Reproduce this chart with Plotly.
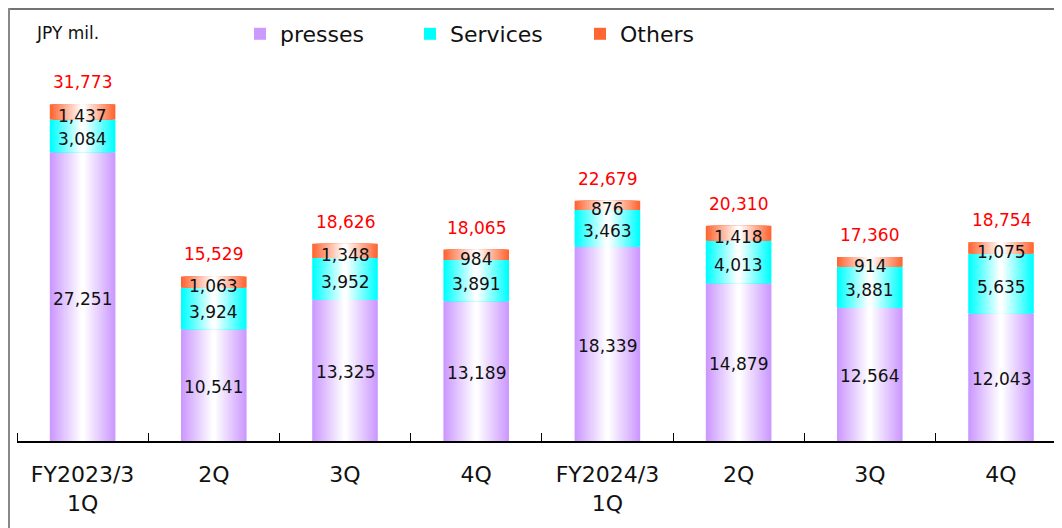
import plotly.graph_objects as go

categories = ["FY2023/3<br>1Q", "2Q", "3Q", "4Q", "FY2024/3<br>1Q", "2Q", "3Q", "4Q"]
presses = [27251, 10541, 13325, 13189, 18339, 14879, 12564, 12043]
services = [3084, 3924, 3952, 3891, 3463, 4013, 3881, 5635]
others = [1437, 1063, 1348, 984, 876, 1418, 914, 1075]
totals = [31773, 15529, 18626, 18065, 22679, 20310, 17360, 18754]

series = [
    ("presses", presses, (204, 153, 255), -2),
    ("Services", services, (0, 255, 255), -3),
    ("Others", others, (255, 102, 51), -4),
]

FONT = "DejaVu Sans, Verdana, sans-serif"
x = list(range(len(categories)))
N = 16
BW = 0.5

W, H = 1062, 528
ML, MR, MT, MB = 9, 0, 42, 95
pw, ph = W - ML - MR, H - MT - MB


def px_x(p):
    return (p - ML) / pw


def px_y(p):
    return (H - MB - p) / ph


fig = go.Figure()
base = [0] * len(x)
annotations = []
for name, vals, rgb, shift in series:
    for k in range(N):
        t = k / (N - 1)
        c = tuple(round(v + (255 - v) * t) for v in rgb)
        fig.add_trace(go.Bar(
            x=x, y=vals, base=base[:],
            width=BW * (1 - k / N),
            marker=dict(color="rgb(%d,%d,%d)" % c, line=dict(width=0)),
            name=name, showlegend=(k == 0), legendgroup=name,
            hoverinfo="skip",
        ))
    for i, v in enumerate(vals):
        annotations.append(dict(
            x=i, y=base[i] + v / 2, text=f"{v:,}", showarrow=False,
            yshift=shift,
            font=dict(family=FONT, size=17, color="#111111"),
            xref="x", yref="y",
        ))
    base = [b + v for b, v in zip(base, vals)]

for i, tot in enumerate(totals):
    annotations.append(dict(
        x=i, y=base[i], text=f"{tot:,}", showarrow=False,
        yanchor="bottom", yshift=10,
        font=dict(family=FONT, size=17, color="#FF0000"),
        xref="x", yref="y",
    ))

annotations.append(dict(
    x=px_x(26), y=px_y(25), xref="paper", yref="paper", text="JPY mil.",
    showarrow=False, xanchor="left", yanchor="middle",
    font=dict(family=FONT, size=17, color="#111111"),
))

fig.update_layout(
    width=W, height=H,
    margin=dict(l=ML, r=MR, t=MT, b=MB),
    barmode="overlay",
    plot_bgcolor="white", paper_bgcolor="white",
    font=dict(family=FONT, color="#111111"),
    annotations=annotations,
    legend=dict(
        orientation="h", x=px_x(232), y=px_y(26), xanchor="left", yanchor="middle",
        font=dict(family=FONT, size=22, color="#111111"),
        entrywidth=125, entrywidthmode="pixels",
        bgcolor="rgba(0,0,0,0)", itemclick=False, itemdoubleclick=False,
    ),
    xaxis=dict(
        range=[-0.5, -0.5 + pw / 131.2],
        tickmode="array", tickvals=x, ticktext=categories,
        ticks="", showgrid=False, zeroline=False,
        showline=True, linecolor="#000000", linewidth=1.5,
        tickfont=dict(family=FONT, size=22, color="#111111"),
        ticklabelstandoff=13,
        minor=dict(tick0=-0.5, dtick=1, ticks="inside", ticklen=8,
                   tickcolor="#000000", tickwidth=1, showgrid=False),
    ),
    yaxis=dict(range=[0, 36900], visible=False),
    shapes=[
        dict(type="line", xref="paper", yref="paper",
             x0=px_x(0), x1=px_x(W + 5), y0=px_y(1), y1=px_y(1),
             line=dict(color="#444444", width=1.5)),
        dict(type="line", xref="paper", yref="paper",
             x0=px_x(1), x1=px_x(1), y0=px_y(0), y1=px_y(H + 5),
             line=dict(color="#888888", width=2)),
    ],
)

fig.write_html("out.html")
